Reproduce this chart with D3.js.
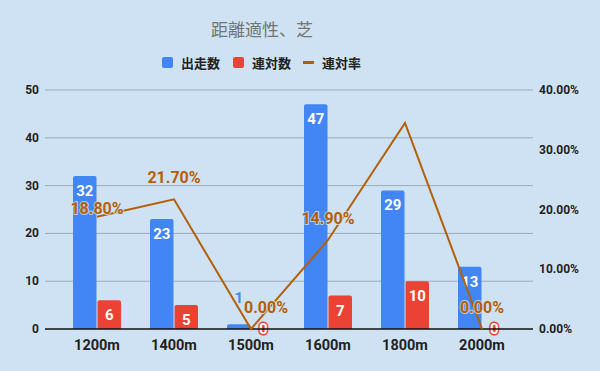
<!DOCTYPE html>
<html>
<head>
<meta charset="utf-8">
<script src="https://cdn.jsdelivr.net/npm/d3@7"></script>
<style>
  body { margin: 0; background: #cfe2f3; }
  svg { display: block; }
</style>
</head>
<body>
<div id="chart"></div>
<script>
// data
var categories = ['1200m', '1400m', '1500m', '1600m', '1800m', '2000m']
var starts = [32, 23, 1, 47, 29, 13]      // 出走数
var top2 = [6, 5, 0, 7, 10, 0]            // 連対数
var rate = [18.8, 21.7, 0, 14.9, 34.5, 0] // 連対率 (%)
var rateLabelShown = ['1200m', '1400m', '1500m', '1600m', '2000m']
var leftTicks = [0, 10, 20, 30, 40, 50]
var rightTicks = [0, 10, 20, 30, 40]

var W = 600, H = 371
var plot = { left: 45, right: 533, top: 90, bottom: 329 }

var BLUE = '#4285f4', RED = '#ea4335', LINE = '#b45f06', BG = '#cfe2f3'
var font = 'Roboto, "Noto Sans CJK JP", sans-serif'

var svg = d3.select('#chart').append('svg')
    .attr('width', W).attr('height', H)

svg.append('rect').attr('width', W).attr('height', H).attr('fill', BG)

var x = d3.scaleBand().domain(categories).range([58.5, 520.5])
var inner = d3.scaleBand().domain(['s', 't']).range([0, 48]).paddingInner(0.04)
var groupOffset = (x.bandwidth() - 48) / 2

var y = d3.scaleLinear().domain([0, 50]).range([plot.bottom, plot.top])
var y2 = d3.scaleLinear().domain([0, 40]).range([plot.bottom, plot.top])

// gridlines
svg.append('g').selectAll('line').data(leftTicks.filter(d => d > 0))
    .join('line')
    .attr('x1', plot.left).attr('x2', plot.right)
    .attr('y1', d => y(d)).attr('y2', d => y(d))
    .attr('stroke', '#9aabbd').attr('stroke-width', 1)

// left axis labels
svg.append('g').selectAll('text').data(leftTicks)
    .join('text')
    .attr('x', 39).attr('y', d => y(d) + 4)
    .attr('text-anchor', 'end')
    .attr('font-family', font).attr('font-weight', 'bold').attr('font-size', 12)
    .attr('fill', '#222')
    .text(d => d)

// right axis labels
svg.append('g').selectAll('text').data(rightTicks)
    .join('text')
    .attr('x', 539).attr('y', d => y2(d) + 4)
    .attr('font-family', font).attr('font-weight', 'bold').attr('font-size', 12)
    .attr('fill', '#222')
    .text(d => d.toFixed(2) + '%')

// bars
var groups = svg.append('g').selectAll('g').data(categories)
    .join('g')
    .attr('transform', d => 'translate(' + (x(d) + groupOffset) + ',0)')

function bar(g, key, vals, color) {
    g.append('path')
        .attr('fill', color)
        .attr('d', (d, i) => {
            var v = vals[i]
            var x0 = inner(key), w = inner.bandwidth()
            var yt = y(v), yb = y(0)
            var r = Math.min(2, (yb - yt) / 2)
            return 'M' + x0 + ',' + yb + 'V' + (yt + r) + 'Q' + x0 + ',' + yt + ' ' + (x0 + r) + ',' + yt +
                'H' + (x0 + w - r) + 'Q' + (x0 + w) + ',' + yt + ' ' + (x0 + w) + ',' + (yt + r) + 'V' + yb + 'Z'
        })
}
bar(groups, 's', starts, BLUE)
bar(groups, 't', top2, RED)

// baseline
svg.append('line')
    .attr('x1', plot.left).attr('x2', plot.right)
    .attr('y1', plot.bottom).attr('y2', plot.bottom)
    .attr('stroke', '#111').attr('stroke-width', 1.3)

// bar value labels
var inside = v => y(0) - y(v) >= 20
function barLabelY(v) {
    if (inside(v)) return y(v) + 20
    if (v === 0) return y(0) + 5
    return y(v) - 21
}
function barLabels(key, vals, color) {
    groups.append('text')
        .attr('x', inner(key) + inner.bandwidth() / 2)
        .attr('y', (d, i) => barLabelY(vals[i]))
        .attr('text-anchor', 'middle')
        .attr('font-family', font).attr('font-weight', 'bold').attr('font-size', 15)
        .attr('paint-order', 'stroke')
        .attr('stroke', (d, i) => inside(vals[i]) ? 'none' : (vals[i] === 0 ? color : BG))
        .attr('stroke-width', (d, i) => vals[i] === 0 ? 3 : 2)
        .attr('fill', (d, i) => inside(vals[i]) ? '#fff' : (vals[i] === 0 ? '#fff' : color))
        .text((d, i) => vals[i])
}
barLabels('s', starts, BLUE)
barLabels('t', top2, RED)

// rate line
var cx = d => x(d) + x.bandwidth() / 2
var line = d3.line().x((d, i) => cx(categories[i])).y(d => y2(d))
svg.append('path')
    .attr('d', line(rate))
    .attr('fill', 'none').attr('stroke', LINE).attr('stroke-width', 2)

// rate labels: above the point, pushed below it when they would sit on a bar label
function rateLabelY(d) {
    var i = categories.indexOf(d.c)
    var base = y2(d.v) - 16
    var barBase = barLabelY(starts[i])
    if (inside(starts[i]) && Math.abs(base - barBase) < 12) base = y2(d.v) - 3
    return base
}
svg.append('g').selectAll('text')
    .data(categories.map((c, i) => ({ c: c, v: rate[i] })).filter(d => rateLabelShown.includes(d.c)))
    .join('text')
    .attr('x', d => cx(d.c) + (d.v === 0 && !inside(starts[categories.indexOf(d.c)]) ? 15 : 0))
    .attr('y', rateLabelY)
    .attr('text-anchor', 'middle')
    .attr('font-family', font).attr('font-weight', 'bold').attr('font-size', 16)
    .attr('paint-order', 'stroke').attr('stroke', BG).attr('stroke-width', 2).attr('stroke-opacity', 0.8)
    .attr('fill', LINE)
    .text(d => d.v.toFixed(2) + '%')

// x labels
svg.append('g').selectAll('text').data(categories)
    .join('text')
    .attr('x', d => cx(d)).attr('y', 350)
    .attr('text-anchor', 'middle')
    .attr('font-family', font).attr('font-weight', 'bold').attr('font-size', 14.5)
    .attr('fill', '#222')
    .text(d => d)

// title
svg.append('text')
    .attr('x', 262).attr('y', 36)
    .attr('text-anchor', 'middle')
    .attr('font-family', '"Noto Sans CJK JP", sans-serif').attr('font-size', 17)
    .attr('fill', '#757575')
    .text('距離適性、芝')

// legend
var legend = [
    { name: '出走数', color: BLUE, type: 'box', x: 162 },
    { name: '連対数', color: RED, type: 'box', x: 233 },
    { name: '連対率', color: LINE, type: 'line', x: 303 }
]
var lg = svg.append('g').selectAll('g').data(legend).join('g')
    .attr('transform', d => 'translate(' + d.x + ',63)')
lg.filter(d => d.type === 'box').append('rect')
    .attr('x', 0).attr('y', -6).attr('width', 11).attr('height', 11).attr('rx', 2)
    .attr('fill', d => d.color)
lg.filter(d => d.type === 'line').append('rect')
    .attr('x', 0).attr('y', -2).attr('width', 11).attr('height', 3)
    .attr('fill', d => d.color)
lg.append('text')
    .attr('x', 19).attr('y', 5)
    .attr('font-family', '"Noto Sans CJK JP", sans-serif').attr('font-weight', 'bold').attr('font-size', 13)
    .attr('fill', '#222')
    .text(d => d.name)
</script>
</body>
</html>
